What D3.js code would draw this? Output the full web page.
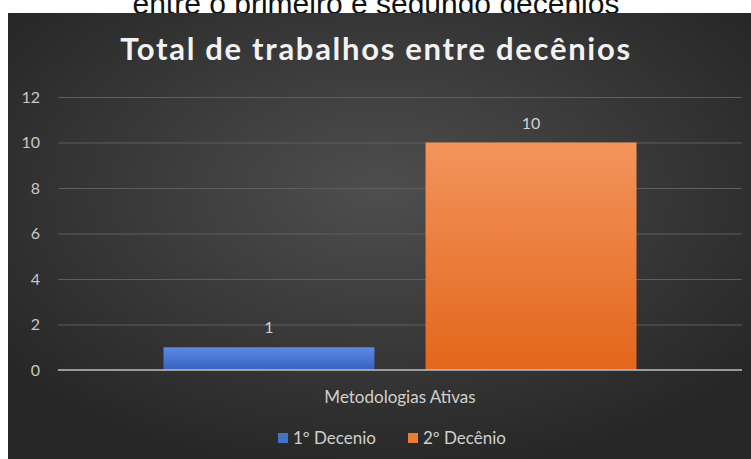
<!DOCTYPE html>
<html>
<head>
<meta charset="utf-8">
<script src="https://cdn.jsdelivr.net/npm/d3@7"></script>
<style>
  html, body { margin: 0; padding: 0; background: #ffffff; }
  svg { display: block; }
</style>
</head>
<body>
<svg id="chart" width="751" height="459"></svg>
<script>
// Chart data
const categories = ["Metodologias Ativas"];
const seriesNames = ["1º Decenio", "2º Decênio"];
const seriesValues = [[1], [10]];
const yTicks = [0, 2, 4, 6, 8, 10, 12];
const chartTitle = "Total de trabalhos entre decênios";
const captionText = "entre o primeiro e segundo decênios";

const W = 751, H = 459;
const svg = d3.select("#chart");
const defs = svg.append("defs");

// Background radial shading
const bg = defs.append("radialGradient").attr("id", "bgGrad")
  .attr("cx", "50%").attr("cy", "40%").attr("r", "65%");
bg.append("stop").attr("offset", "0%").attr("stop-color", "#4e4e4e");
bg.append("stop").attr("offset", "100%").attr("stop-color", "#262626");

const gradColors = [["#5b8ae2", "#3662c3"], ["#f3945c", "#e3661b"]];
const legendColors = ["#4472c4", "#ed7d31"];
gradColors.forEach((c, i) => {
  const g = defs.append("linearGradient").attr("id", "barGrad" + i)
    .attr("x1", 0).attr("y1", 0).attr("x2", 0).attr("y2", 1);
  g.append("stop").attr("offset", "0%").attr("stop-color", c[0]);
  g.append("stop").attr("offset", "100%").attr("stop-color", c[1]);
});

// Caption line above the chart panel (partially hidden by it)
svg.append("text")
  .attr("x", 376).attr("y", 14)
  .attr("text-anchor", "middle")
  .style("font-family", "Liberation Sans, Arial, sans-serif")
  .style("font-size", "30px")
  .attr("fill", "#111")
  .text(captionText);

// Chart panel
svg.append("rect")
  .attr("x", 8).attr("y", 13).attr("width", W - 8).attr("height", H - 13)
  .attr("fill", "url(#bgGrad)");

// Title
svg.append("text")
  .attr("x", 376).attr("y", 60)
  .attr("text-anchor", "middle")
  .style("font-family", "Lato, sans-serif")
  .style("font-weight", "bold")
  .style("font-size", "31px")
  .style("letter-spacing", "1.7px")
  .attr("fill", "#f2f2f2")
  .text(chartTitle);

const plot = { left: 58, right: 742, top: 97, bottom: 370 };

const y = d3.scaleLinear().domain([0, 12]).range([plot.bottom, plot.top]);
const x0 = d3.scaleBand().domain(categories).range([plot.left, plot.right])
  .paddingOuter(0.223).paddingInner(0);
const x1 = d3.scaleBand().domain(seriesNames).range([0, x0.bandwidth()])
  .paddingInner(0.195).paddingOuter(0);

// Gridlines
svg.append("g")
  .selectAll("line")
  .data(yTicks.filter(d => d > 0))
  .join("line")
  .attr("x1", plot.left).attr("x2", plot.right)
  .attr("y1", d => y(d) + 0.5).attr("y2", d => y(d) + 0.5)
  .attr("stroke", "#5e5e5e").attr("stroke-width", 1);

// Y axis labels
const yAxis = d3.axisLeft(y).tickValues(yTicks).tickSize(0).tickPadding(0);
const yg = svg.append("g").attr("transform", `translate(${plot.left - 18},0)`).call(yAxis);
yg.select(".domain").remove();
yg.selectAll("text")
  .style("font-family", "Lato, sans-serif")
  .style("font-size", "16px")
  .attr("fill", "#c8c8c8");

// Bars
const groups = svg.append("g")
  .selectAll("g")
  .data(categories)
  .join("g")
  .attr("transform", d => `translate(${x0(d)},0)`);

groups.selectAll("rect")
  .data((d, ci) => seriesNames.map((s, si) => ({ s, si, v: seriesValues[si][ci] })))
  .join("rect")
  .attr("x", d => x1(d.s))
  .attr("width", x1.bandwidth())
  .attr("y", d => y(d.v))
  .attr("height", d => y(0) - y(d.v))
  .attr("fill", d => `url(#barGrad${d.si})`);

// Value labels
groups.selectAll("text.val")
  .data((d, ci) => seriesNames.map((s, si) => ({ s, si, v: seriesValues[si][ci] })))
  .join("text")
  .attr("class", "val")
  .attr("x", d => x1(d.s) + x1.bandwidth() / 2)
  .attr("y", d => y(d.v) - 14)
  .attr("text-anchor", "middle")
  .style("font-family", "Lato, sans-serif")
  .style("font-size", "16px")
  .attr("fill", "#d0d0d0")
  .text(d => d.v);

// Baseline
svg.append("line")
  .attr("x1", plot.left).attr("x2", plot.right)
  .attr("y1", y(0)).attr("y2", y(0))
  .attr("stroke", "#bfbfbf").attr("stroke-width", 1.5);

// Category label
const xAxis = d3.axisBottom(x0).tickSize(0).tickPadding(0);
const xg = svg.append("g").attr("transform", `translate(0,${plot.bottom + 33})`).call(xAxis);
xg.select(".domain").remove();
xg.selectAll("text")
  .attr("dy", 0)
  .style("font-family", "Lato, sans-serif")
  .style("font-size", "17px")
  .attr("fill", "#d0d0d0");

// Legend
const legend = svg.append("g").attr("transform", "translate(0,438)");
const legendX = [278, 408];
seriesNames.forEach((s, i) => {
  legend.append("rect")
    .attr("x", legendX[i]).attr("y", -5)
    .attr("width", 10).attr("height", 10)
    .attr("fill", legendColors[i]);
  legend.append("text")
    .attr("x", legendX[i] + 15).attr("y", 6)
    .style("font-family", "Lato, sans-serif")
    .style("font-size", "17px")
    .attr("fill", "#d0d0d0")
    .text(s);
});
</script>
</body>
</html>
